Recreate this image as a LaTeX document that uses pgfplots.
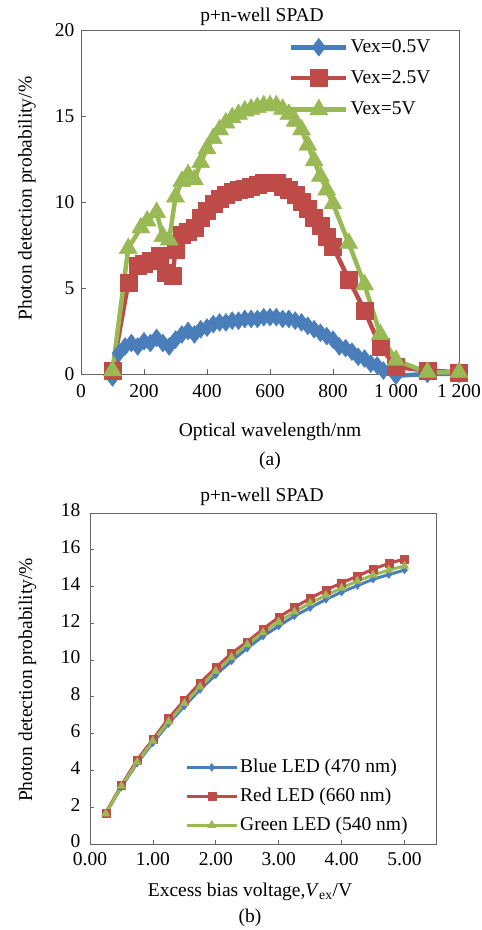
\documentclass[border=0pt]{standalone}
\usepackage{fontspec}
\setmainfont{Liberation Serif}
\usepackage{pgfplots}
\pgfplotsset{compat=1.18}
\definecolor{cblue}{RGB}{74,126,187}
\definecolor{cred}{RGB}{190,75,72}
\definecolor{cgreen}{RGB}{152,185,84}
\definecolor{axgray}{RGB}{100,100,100}
\newcommand{\bigf}{\fontsize{19.5}{23}\selectfont}
\begin{document}
\bigf
\begin{tikzpicture}
\path[use as bounding box] (0,0) rectangle (482pt,930pt);
% ---------------- (a) ----------------
\begin{axis}[at={(81pt,556pt)}, anchor=south west, scale only axis,
  width=378pt, height=344pt,
  xmin=0, xmax=1200, ymin=0, ymax=20,
  xtick={0,200,...,1200}, xticklabels={0,200,400,600,800,1\ 000,1\ 200},
  ytick={0,5,10,15,20},
  tick align=inside, xtick pos=bottom, ytick pos=left,
  axis line style={axgray, line width=0.8pt},
  tick style={axgray, line width=0.8pt}, major tick length=5pt,
  /pgf/number format/assume math mode=true,
  ticklabel style={font=\bigf},
  xticklabel style={yshift=-4pt},
  clip=false,
  legend style={at={(0.542,0.985)}, anchor=north west, draw=none, fill=none,
    font=\bigf, row sep=11pt},
  legend cell align=left,
  legend image code/.code={\draw[mark repeat=2,mark phase=2,#1] plot coordinates {(0pt,0pt) (27.5pt,0pt) (55pt,0pt)};},
  every axis plot/.append style={line join=round},
]
\addplot[color=cblue, line width=4.5pt, mark=diamond*, mark size=9,
  mark options={solid, line width=0.4pt, draw=cblue, fill=cblue}] table {
100 -0.2
120 1.2
140 1.6
160 1.8
180 1.6
200 1.9
220 1.8
240 2.1
260 1.8
280 1.6
300 2.0
320 2.3
340 2.5
360 2.3
380 2.6
400 2.7
420 2.9
440 3.0
460 3.0
480 3.1
500 3.1
520 3.2
540 3.2
560 3.2
580 3.3
600 3.3
620 3.3
640 3.2
660 3.2
680 3.1
700 3.0
720 2.8
740 2.6
760 2.4
780 2.2
800 2.0
820 1.6
840 1.5
860 1.3
880 1.0
900 0.9
920 0.6
940 0.5
960 0.2
1000 -0.1
1100 0.0
1200 0.0
};
\addlegendentry{Vex=0.5V}
\addplot[color=cred, line width=4.5pt, mark=square*, mark size=8.5,
  mark options={solid, line width=0.4pt, draw=cred, fill=cred}] table {
100 0.2
150 5.3
180 6.3
200 6.4
220 6.6
250 6.9
270 5.9
290 5.7
300 7.2
320 8.1
340 8.3
360 8.5
380 9.1
400 9.5
420 9.9
440 10.2
460 10.4
480 10.6
500 10.7
520 10.8
540 10.9
560 11.0
580 11.1
600 11.1
620 11.1
640 10.9
660 10.7
680 10.4
700 10.0
720 9.6
740 9.1
760 8.6
780 8.0
800 7.4
850 5.5
900 3.7
950 1.6
1000 0.4
1100 0.2
1200 0.1
};
\addlegendentry{Vex=2.5V}
\addplot[color=cgreen, line width=4.5pt, mark=triangle*, mark size=10.5,
  mark options={solid, line width=0.4pt, draw=cgreen, fill=cgreen}] table {
100 0.2
150 7.3
190 8.5
210 8.9
240 9.4
260 8.0
280 7.8
300 10.3
320 11.2
340 11.6
360 11.3
380 12.3
400 13.1
420 13.7
440 14.2
460 14.6
480 14.9
500 15.1
520 15.3
540 15.4
560 15.5
580 15.6
600 15.6
620 15.6
640 15.4
660 15.1
680 14.7
700 14.2
720 13.3
740 12.4
760 11.5
780 10.7
800 9.9
850 7.6
900 5.2
950 2.3
1000 0.8
1100 0.1
1200 0.1
};
\addlegendentry{Vex=5V}
\end{axis}
% ---------------- (b) ----------------
\begin{axis}[at={(90pt,86pt)}, anchor=south west, scale only axis,
  width=346pt, height=331pt,
  xmin=0, xmax=5.5, ymin=0, ymax=18,
  xtick={0,1,...,5}, xticklabels={0.00,1.00,2.00,3.00,4.00,5.00},
  ytick={0,2,...,18},
  tick align=inside, xtick pos=bottom, ytick pos=left,
  axis line style={axgray, line width=0.8pt},
  tick style={axgray, line width=0.8pt}, major tick length=4pt,
  /pgf/number format/assume math mode=true,
  ticklabel style={font=\bigf},
  yticklabel style={xshift=-3pt, yshift=2.5pt},
  xticklabel style={yshift=-2pt},
  clip=false,
  legend style={at={(0.266,0.269)}, anchor=north west, draw=none, fill=none,
    font=\bigf, row sep=8.5pt},
  legend cell align=left,
  legend image code/.code={\draw[mark repeat=2,mark phase=2,#1] plot coordinates {(0pt,0pt) (25pt,0pt) (50pt,0pt)};},
  every axis plot/.append style={line join=round},
]
\addplot[color=cblue, line width=3pt, mark=diamond*, mark size=4,
  mark options={solid, line width=0.3pt, draw=cblue, fill=cblue}] table {
0.25 1.65
0.50 3.10
0.75 4.40
1.00 5.50
1.25 6.55
1.50 7.50
1.75 8.40
2.00 9.20
2.25 9.95
2.50 10.65
2.75 11.30
3.00 11.85
3.25 12.40
3.50 12.85
3.75 13.30
4.00 13.70
4.25 14.05
4.50 14.40
4.75 14.65
5.00 14.90
};
\addlegendentry{Blue LED (470 nm)}
\addplot[color=cred, line width=3pt, mark=square*, mark size=4,
  mark options={solid, line width=0.3pt, draw=cred, fill=cred}] table {
0.25 1.70
0.50 3.20
0.75 4.57
1.00 5.70
1.25 6.83
1.50 7.83
1.75 8.77
2.00 9.59
2.25 10.37
2.50 11.00
2.75 11.69
3.00 12.33
3.25 12.87
3.50 13.36
3.75 13.81
4.00 14.20
4.25 14.57
4.50 14.95
4.75 15.26
5.00 15.50
};
\addlegendentry{Red LED (660 nm)}
\addplot[color=cgreen, line width=3pt, mark=triangle*, mark size=5,
  mark options={solid, line width=0.3pt, draw=cgreen, fill=cgreen}] table {
0.25 1.65
0.50 3.15
0.75 4.45
1.00 5.60
1.25 6.65
1.50 7.65
1.75 8.55
2.00 9.40
2.25 10.15
2.50 10.85
2.75 11.50
3.00 12.08
3.25 12.62
3.50 13.10
3.75 13.52
4.00 13.92
4.25 14.30
4.50 14.62
4.75 14.90
5.00 15.12
};
\addlegendentry{Green LED (540 nm)}
\end{axis}
% ---------------- labels ----------------
\node[anchor=base, font=\bigf] at (262pt,908.3pt) {p+n-well SPAD};
\node[anchor=base, font=\bigf] at (270pt,493pt) {Optical wavelength/nm};
\node[anchor=base, font=\bigf] at (270pt,464pt) {(a)};
\node[anchor=base, rotate=90, font=\bigf] at (31.7pt,731.5pt) {Photon detection probability/\%};
\node[anchor=base, font=\bigf] at (262pt,428.3pt) {p+n-well SPAD};
\node[anchor=base, font=\bigf] at (250pt,34pt) {Excess bias voltage,\textit{V}\textsubscript{ex}/V};
\node[anchor=base, font=\bigf] at (250pt,7pt) {(b)};
\node[anchor=base, rotate=90, font=\bigf] at (32pt,250pt) {Photon detection probability/\%};
\end{tikzpicture}
\end{document}
